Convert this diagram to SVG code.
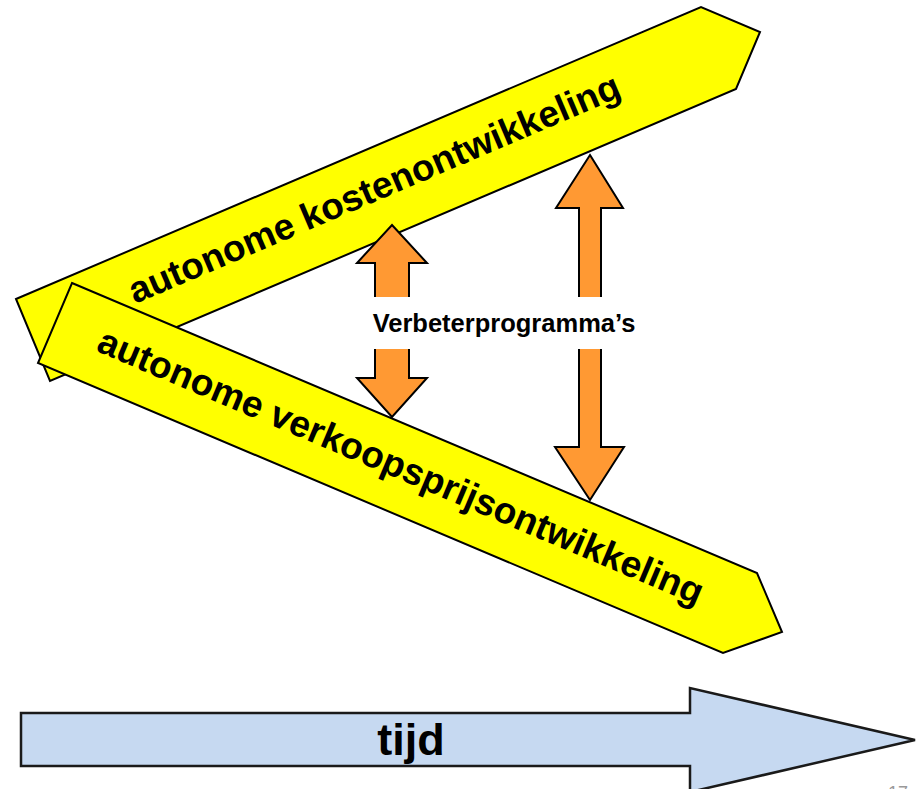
<svg xmlns="http://www.w3.org/2000/svg" width="917" height="789" viewBox="0 0 917 789">
<style>
.band{fill:#FFFF00;stroke:#000;stroke-width:2;stroke-linejoin:miter}
.btxt{font-family:"Liberation Sans",Arial,sans-serif;font-weight:bold;font-size:37px;fill:#000}
.orange{fill:#FF9933;stroke:#000;stroke-width:2;stroke-linejoin:miter}
.lbl{font-family:"Liberation Sans",Arial,sans-serif;font-weight:bold;font-size:25.5px;fill:#000}
.time{fill:#C6D9F1;stroke:#1a1a1a;stroke-width:2.5;stroke-linejoin:miter}
.ttxt{font-family:"Liberation Sans",Arial,sans-serif;font-weight:bold;font-size:45px;fill:#000}
.pg{font-family:"Liberation Sans",Arial,sans-serif;font-size:18px;fill:#999}
</style>
<rect width="917" height="789" fill="#fff"/>
<g id="kosten">
<polygon class="band" points="16,299 701,7 760,32 736,89 50,381"/>
<text class="btxt" text-anchor="middle" transform="translate(379,200) rotate(-23.09)">autonome kostenontwikkeling</text>
</g>
<g id="verkoop">
<polygon class="band" points="72,283 757,573 782,632 723,653 38,363"/>
<text class="btxt" text-anchor="middle" transform="translate(396,478) rotate(22.94)">autonome verkoopsprijsontwikkeling</text>
</g>
<g id="connectors">
<polygon class="orange" points="392,225 427,263 409,263 409,378 427,378 392,417 357,378 375,378 375,263 357,263"/>
<polygon class="orange" points="590,155 623,208 601,208 601,447 624,447 590,500 555,447 579,447 579,208 556,208"/>
</g>
<g id="label">
<rect x="360" y="297" width="285" height="52" fill="#fff"/>
<text class="lbl" text-anchor="middle" x="504" y="332">Verbeterprogramma’s</text>
</g>
<g id="tijd">
<polygon class="time" points="21,713 690,713 690,688 915,740 690,792 690,766 21,766"/>
<text class="ttxt" text-anchor="middle" x="411" y="755">tijd</text>
</g>
<text class="pg" x="888" y="799">17</text>
</svg>
